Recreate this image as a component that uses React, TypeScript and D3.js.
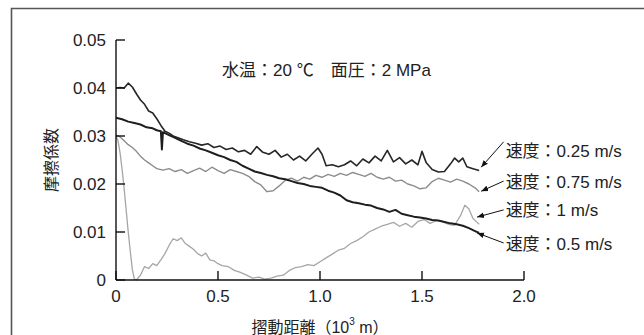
import React from "react";
import * as d3 from "d3";

const W = 644;
const H = 335;

const xTicks = [0, 0.5, 1.0, 1.5, 2.0];
const xTickLabels = ["0", "0.5", "1.0", "1.5", "2.0"];
const yTicks = [0, 0.01, 0.02, 0.03, 0.04, 0.05];
const yTickLabels = ["0", "0.01", "0.02", "0.03", "0.04", "0.05"];

const speedLabels = ["速度：0.25 m/s", "速度：0.75 m/s", "速度：1 m/s", "速度：0.5 m/s"];

// [sliding distance (10^3 m), friction coefficient]
const v025: [number, number][] = [
  [0.0, 0.04], [0.02, 0.0401], [0.04, 0.04], [0.06, 0.041], [0.08, 0.0402], [0.1, 0.0388],
  [0.12, 0.0375], [0.14, 0.0366], [0.16, 0.0352], [0.18, 0.0348], [0.2, 0.0336], [0.22, 0.0322],
  [0.24, 0.031], [0.26, 0.0306], [0.28, 0.03], [0.3, 0.0297], [0.33, 0.0292], [0.36, 0.0288],
  [0.39, 0.0285], [0.42, 0.0281], [0.45, 0.0284], [0.48, 0.0276], [0.51, 0.0279], [0.54, 0.0272],
  [0.57, 0.0275], [0.6, 0.0267], [0.63, 0.027], [0.66, 0.0262], [0.69, 0.0278], [0.72, 0.0266],
  [0.75, 0.0262], [0.78, 0.027], [0.81, 0.0256], [0.84, 0.0262], [0.87, 0.025], [0.9, 0.0258],
  [0.93, 0.0248], [0.96, 0.0262], [0.99, 0.0275], [1.01, 0.0262], [1.03, 0.0238], [1.06, 0.024],
  [1.09, 0.0236], [1.12, 0.024], [1.15, 0.0248], [1.18, 0.0238], [1.21, 0.0252], [1.24, 0.0244],
  [1.27, 0.0258], [1.3, 0.0248], [1.33, 0.027], [1.36, 0.0246], [1.39, 0.0255], [1.42, 0.0242],
  [1.45, 0.025], [1.48, 0.024], [1.5, 0.0268], [1.52, 0.0245], [1.55, 0.023], [1.58, 0.0225],
  [1.61, 0.0226], [1.64, 0.0242], [1.66, 0.0254], [1.68, 0.0246], [1.7, 0.0254], [1.72, 0.0236],
  [1.75, 0.0232], [1.78, 0.0228],
];

const v050: [number, number][] = [
  [0.0, 0.0338], [0.03, 0.0335], [0.06, 0.033], [0.09, 0.0327], [0.12, 0.0324], [0.15, 0.0318],
  [0.18, 0.0316], [0.2, 0.0312], [0.22, 0.031], [0.225, 0.0272], [0.23, 0.0308], [0.26, 0.0302],
  [0.29, 0.0296], [0.32, 0.029], [0.35, 0.0284], [0.38, 0.028], [0.41, 0.0274], [0.44, 0.027],
  [0.47, 0.0265], [0.5, 0.026], [0.53, 0.0256], [0.56, 0.025], [0.59, 0.0246], [0.62, 0.0238],
  [0.65, 0.0232], [0.68, 0.0226], [0.71, 0.0223], [0.74, 0.0219], [0.77, 0.0216], [0.8, 0.0212],
  [0.83, 0.021], [0.86, 0.0206], [0.89, 0.0202], [0.92, 0.02], [0.95, 0.0196], [0.98, 0.0194],
  [1.01, 0.0192], [1.04, 0.0186], [1.07, 0.0182], [1.1, 0.0176], [1.13, 0.0166], [1.16, 0.0162],
  [1.19, 0.016], [1.22, 0.0157], [1.25, 0.0155], [1.28, 0.015], [1.31, 0.0147], [1.34, 0.0142],
  [1.37, 0.0146], [1.4, 0.0138], [1.43, 0.0135], [1.46, 0.0132], [1.49, 0.013], [1.52, 0.0128],
  [1.55, 0.0125], [1.58, 0.0124], [1.61, 0.0121], [1.64, 0.0118], [1.67, 0.0116], [1.7, 0.0113],
  [1.73, 0.0108], [1.76, 0.0102], [1.78, 0.0098],
];

const v075: [number, number][] = [
  [0.0, 0.0302], [0.02, 0.0298], [0.04, 0.029], [0.06, 0.0282], [0.08, 0.0276], [0.1, 0.0268],
  [0.12, 0.0258], [0.14, 0.025], [0.16, 0.0244], [0.18, 0.0238], [0.2, 0.0232], [0.23, 0.0229],
  [0.26, 0.0232], [0.29, 0.0226], [0.32, 0.023], [0.35, 0.0222], [0.38, 0.0228], [0.41, 0.0233],
  [0.44, 0.0226], [0.47, 0.0235], [0.5, 0.0228], [0.53, 0.0222], [0.56, 0.023], [0.59, 0.0226],
  [0.62, 0.0222], [0.65, 0.0216], [0.68, 0.0205], [0.71, 0.0198], [0.74, 0.0184], [0.77, 0.0186],
  [0.8, 0.0196], [0.83, 0.0208], [0.86, 0.0212], [0.89, 0.0206], [0.92, 0.0214], [0.95, 0.021],
  [0.98, 0.0218], [1.01, 0.0214], [1.04, 0.022], [1.07, 0.0216], [1.1, 0.0222], [1.13, 0.0218],
  [1.16, 0.0224], [1.19, 0.022], [1.22, 0.0216], [1.25, 0.0222], [1.28, 0.0214], [1.31, 0.021],
  [1.34, 0.0214], [1.37, 0.0206], [1.4, 0.0208], [1.43, 0.02], [1.46, 0.0196], [1.49, 0.019],
  [1.52, 0.0192], [1.55, 0.0205], [1.58, 0.0212], [1.61, 0.0208], [1.64, 0.0204], [1.67, 0.021],
  [1.7, 0.0206], [1.73, 0.02], [1.76, 0.0192], [1.78, 0.0184],
];

const v100: [number, number][] = [
  [0.0, 0.03], [0.01, 0.029], [0.02, 0.0265], [0.03, 0.023], [0.04, 0.019], [0.05, 0.0145],
  [0.06, 0.01], [0.07, 0.006], [0.08, 0.0022], [0.09, 0.0002], [0.1, 0.0], [0.12, 0.001],
  [0.14, 0.0028], [0.16, 0.0024], [0.18, 0.0034], [0.2, 0.003], [0.22, 0.0042], [0.24, 0.0055],
  [0.26, 0.0072], [0.28, 0.0086], [0.3, 0.0082], [0.32, 0.0088], [0.34, 0.0076], [0.36, 0.007],
  [0.38, 0.0064], [0.4, 0.0055], [0.42, 0.005], [0.44, 0.0056], [0.46, 0.0042], [0.48, 0.004],
  [0.5, 0.0034], [0.52, 0.003], [0.55, 0.0028], [0.58, 0.002], [0.61, 0.0016], [0.64, 0.001],
  [0.67, 0.0004], [0.7, 0.0006], [0.73, 0.0002], [0.76, 0.0004], [0.79, 0.0008], [0.82, 0.001],
  [0.85, 0.002], [0.88, 0.0026], [0.91, 0.0028], [0.94, 0.0032], [0.97, 0.003], [1.0, 0.0038],
  [1.03, 0.0046], [1.06, 0.0054], [1.09, 0.0062], [1.12, 0.0066], [1.15, 0.0076], [1.18, 0.0082],
  [1.21, 0.009], [1.24, 0.01], [1.27, 0.0106], [1.3, 0.0112], [1.33, 0.0116], [1.36, 0.012],
  [1.39, 0.0112], [1.42, 0.0118], [1.45, 0.011], [1.48, 0.0122], [1.51, 0.0126], [1.54, 0.0118],
  [1.57, 0.0124], [1.6, 0.0122], [1.63, 0.0116], [1.66, 0.0114], [1.69, 0.0135], [1.71, 0.0156],
  [1.73, 0.0148], [1.75, 0.0128], [1.77, 0.012], [1.78, 0.0116],
];

// label anchors (data units) and arrow tips (data units)
const labelY = [0.0267, 0.0204, 0.0144, 0.0073];
const labelD = 1.91;
const arrowStartOffset = [-10, -1, -1, -2];
const arrowTips: [number, number][] = [[1.79, 0.0235], [1.79, 0.0185], [1.77, 0.0131], [1.77, 0.0098]];

const FONT = "'Liberation Sans', Arial, 'Noto Sans CJK JP', sans-serif";

export default function App() {
  const x = d3.scaleLinear().domain([0, 2]).range([116, 524]);
  const y = d3.scaleLinear().domain([0, 0.05]).range([280, 40]);
  const line = d3
    .line<[number, number]>()
    .x((d) => x(d[0]))
    .y((d) => y(d[1]));

  const series = [
    { data: v100, color: "#a6a6a6", width: 1.3 },
    { data: v075, color: "#8c8c8c", width: 1.4 },
    { data: v050, color: "#1e1e1e", width: 2.0 },
    { data: v025, color: "#262626", width: 1.6 },
  ];

  return (
    <svg
      width={W}
      height={H}
      style={{ position: "absolute", left: 0, top: 0, background: "#fff" }}
      fontFamily={FONT}
    >
      <defs>
        <marker id="ah" viewBox="0 0 10 10" refX="10" refY="5" markerWidth="7" markerHeight="7" orient="auto">
          <path d="M0,1 L10,5 L0,9 Z" fill="#111" />
        </marker>
      </defs>
      <rect x={0} y={0} width={W} height={H} fill="#fff" />
      {/* frame */}
      <path d={`M11.5,${H} V8.5 H${W}`} fill="none" stroke="#555" strokeWidth={1.6} />

      {/* series */}
      {series.map((s, i) => (
        <path key={i} d={line(s.data) || ""} fill="none" stroke={s.color} strokeWidth={s.width} strokeLinejoin="round" />
      ))}

      {/* axes */}
      <line x1={x(0)} x2={x(2)} y1={y(0)} y2={y(0)} stroke="#111" strokeWidth={1.4} />
      <line x1={x(0)} x2={x(0)} y1={y(0)} y2={y(0.05)} stroke="#111" strokeWidth={1.4} />
      {yTicks.map((t, i) => (
        <g key={"y" + i}>
          <line x1={x(0)} x2={x(0) + 9} y1={y(t)} y2={y(t)} stroke="#111" strokeWidth={1.4} />
          <text x={x(0) - 10} y={y(t)} textAnchor="end" dominantBaseline="central" fontSize={17} fill="#222">
            {yTickLabels[i]}
          </text>
        </g>
      ))}
      {xTicks.map((t, i) => (
        <g key={"x" + i}>
          <line x1={x(t)} x2={x(t)} y1={y(0)} y2={y(0) - 9} stroke="#111" strokeWidth={1.4} />
          <text x={x(t)} y={y(0) + 16} textAnchor="middle" dominantBaseline="central" fontSize={17} fill="#222">
            {xTickLabels[i]}
          </text>
        </g>
      ))}

      {/* axis titles */}
      <text x={x(1.0)} y={327} textAnchor="middle" dominantBaseline="central" fontSize={16} fill="#222">
        摺動距離（10<tspan fontSize={10} dy={-6}>3</tspan>
        <tspan dy={6}> m）</tspan>
      </text>
      <text
        transform={`translate(51, ${y(0.025)}) rotate(-90)`}
        textAnchor="middle"
        dominantBaseline="central"
        fontSize={16}
        fill="#222"
      >
        摩擦係数
      </text>

      {/* condition annotation */}
      <text x={x(0.52)} y={y(0.04375)} dominantBaseline="central" fontSize={17} fill="#222">
        水温：20 ℃　面圧：2 MPa
      </text>

      {/* speed labels with arrows */}
      {speedLabels.map((lab, i) => (
        <g key={"l" + i}>
          <line
            x1={x(labelD) - 2}
            y1={y(labelY[i]) + arrowStartOffset[i]}
            x2={x(arrowTips[i][0])}
            y2={y(arrowTips[i][1])}
            stroke="#111"
            strokeWidth={1}
            markerEnd="url(#ah)"
          />
          <text x={x(labelD)} y={y(labelY[i])} dominantBaseline="central" fontSize={17} fill="#222">
            {lab}
          </text>
        </g>
      ))}
    </svg>
  );
}
